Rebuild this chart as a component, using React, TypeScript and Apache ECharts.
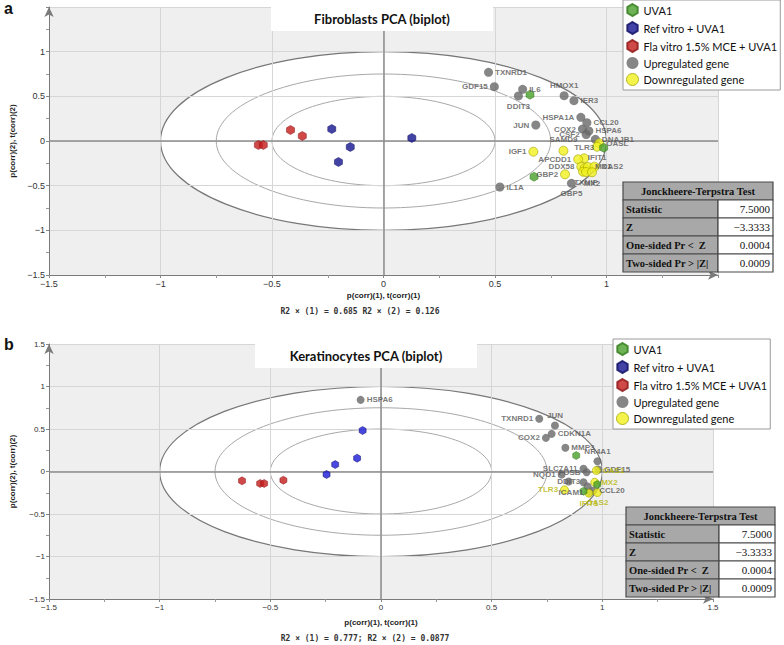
import React, { useEffect, useRef } from 'react';
import * as echarts from 'echarts';

// ---------- data ----------
const ellipseRadii = [1, 0.75, 0.5];
const legendNames = ['UVA1', 'Ref vitro + UVA1', 'Fla vitro 1.5% MCE + UVA1', 'Upregulated gene', 'Downregulated gene'];
const panelTitles = ['Fibroblasts PCA (biplot)', 'Keratinocytes PCA (biplot)'];
const panelLetters = ['a', 'b'];
const r2Texts = ['R2 \u00d7 (1) = 0.685 R2 \u00d7 (2) = 0.126', 'R2 \u00d7 (1) = 0.777; R2 \u00d7 (2) = 0.0877'];
const axisNameX = 'p(corr)(1), t(corr)(1)';
const axisNameY = 'p(corr)(2), t(corr)(2)';

const tableTitle = 'Jonckheere-Terpstra Test';
const tableLabels = ['Statistic', 'Z', 'One-sided Pr <  Z', 'Two-sided Pr > |Z|'];
const tableValues = ['7.5000', '\u22123.3333', '0.0004', '0.0009'];

// Fibroblasts
const fibUVA1 = [[0.657, 0.518], [0.675, -0.4], [0.987, -0.075]];
const fibRef = [[-0.232, 0.134], [-0.149, -0.067], [-0.202, -0.235], [0.127, 0.034]];
const fibFla = [[-0.561, -0.045], [-0.539, -0.045], [-0.417, 0.123], [-0.364, 0.056]];
type Gene = [string, number, number, string];
const fibUp: Gene[] = [
  ['TXNRD1', 0.471, 0.769, 'right'],
  ['GDF15', 0.497, 0.608, 'left'],
  ['IL6', 0.624, 0.579, 'right'],
  ['DDIT3', 0.605, 0.504, 'bottom'],
  ['HMOX1', 0.81, 0.507, 'top'],
  ['IER3', 0.854, 0.451, 'right'],
  ['HSPA1A', 0.885, 0.265, 'left'],
  ['CCL20', 0.912, 0.205, 'right'],
  ['COX2', 0.892, 0.134, 'left'],
  ['HSPA6', 0.921, 0.112, 'right'],
  ['CSF2', 0.909, 0.073, 'left'],
  ['DNAJB1', 0.95, 0.019, 'right'],
  ['JUN', 0.683, 0.179, 'left'],
  ['IL1A', 0.522, -0.515, 'right'],
  ['GBP5', 0.843, -0.474, 'bottom'],
];
const fibDown: Gene[] = [
  ['IGF1', 0.672, -0.12, 'left'],
  ['SAMD9', 0.807, -0.109, 'top'],
  ['TLR3', 0.9, -0.194, 'top'],
  ['APCDD1', 0.873, -0.205, 'left'],
  ['DDX58', 0.887, -0.288, 'left'],
  ['', 0.902, -0.306, 'left'],
  ['', 0.895, -0.344, 'left'],
  ['GBP2', 0.814, -0.373, 'left'],
  ['MX1', 0.917, -0.291, 'right'],
  ['OAS2', 0.946, -0.288, 'right'],
  ['TXNIP', 0.908, -0.347, 'bottom'],
  ['MX2', 0.935, -0.35, 'bottom'],
  ['OASL', 0.968, -0.026, 'right'],
  ['IFIT1', 0.958, -0.064, 'bottom'],
];

// Keratinocytes
const kerUVA1 = [[0.882, 0.188], [0.977, -0.153], [0.915, -0.232]];
const kerRef = [[-0.246, -0.035], [-0.207, 0.082], [-0.108, 0.157], [-0.083, 0.482]];
const kerFla = [[-0.628, -0.11], [-0.546, -0.141], [-0.528, -0.141], [-0.441, -0.102]];
const kerUp: Gene[] = [
  ['HSPA6', -0.092, 0.843, 'right'],
  ['TXNRD1', 0.715, 0.62, 'left'],
  ['JUN', 0.786, 0.541, 'top'],
  ['CDKN1A', 0.771, 0.443, 'right'],
  ['COX2', 0.745, 0.396, 'left'],
  ['MMP3', 0.833, 0.279, 'right'],
  ['NR4A1', 0.978, 0.121, 'top'],
  ['SLC7A11', 0.915, 0.032, 'left'],
  ['FOSB', 0.929, -0.008, 'left'],
  ['NQO1', 0.816, -0.035, 'left'],
  ['DDIT3', 0.848, -0.118, 'inside'],
  ['', 0.915, -0.126, 'left'],
  ['', 0.934, -0.176, 'left'],
  ['CCL20', 0.959, -0.224, 'right'],
  ['ICAM1', 0.942, -0.247, 'left'],
  ['GDF15', 0.982, 0.024, 'right'],
];
const kerDown: Gene[] = [
  ['TLR3', 0.829, -0.215, 'left'],
  ['MX2', 0.966, -0.126, 'right'],
  ['IFIT1', 0.939, -0.255, 'bottom'],
  ['OAS2', 0.978, -0.247, 'bottom'],
  ['OAS1', 0.973, 0.012, 'right'],
];

// ---------- styles ----------
const HEX = 'path://M50,0 L93.3,25 L93.3,75 L50,100 L6.7,75 L6.7,25 Z';
const SANS = 'Liberation Sans';
const COL = {
  green: '#4a9f2c',
  blue: '#14148f',
  blue2: '#1a1ad8',
  red: '#c41c1c',
  gray: '#686868',
  yellow: '#f0f01e',
};

const minusFmt = (v: number) => (v < 0 ? '\u2212' + String(-v) : String(v));

const panels = [
  {
    grid: { left: 34, top: 7, width: 684, height: 268 },
    fs: 9, showMax: false, nameGapX: 16, nameGapY: 33,
    uva: fibUVA1, ref: fibRef, fla: fibFla, up: fibUp, down: fibDown,
    blue: COL.blue, downLabel: '#555555', sym: 9,
    title: { x: 271, y: 7, w: 222, h: 24 },
    legend: { left: 623, top: 0 },
    table: { x: 623, y: 182, w1: 95, w2: 55, rh: 18 },
    r2: { x: 360, y: 311 },
    letter: { x: 4, y: 0 },
  },
  {
    grid: { left: 35, top: 344, width: 678, height: 255 },
    fs: 8, showMax: true, nameGapX: 19, nameGapY: 33,
    uva: kerUVA1, ref: kerRef, fla: kerFla, up: kerUp, down: kerDown,
    blue: COL.blue2, downLabel: '#b5b500', sym: 8,
    title: { x: 255, y: 343, w: 222, h: 25 },
    legend: { left: 613, top: 339 },
    table: { x: 626, y: 507, w1: 93, w2: 56, rh: 18 },
    r2: { x: 365, y: 638 },
    letter: { x: 4, y: 336 },
  },
];

function buildOption() {
  const grids: any[] = [];
  const xAxes: any[] = [];
  const yAxes: any[] = [];
  const series: any[] = [];
  const legends: any[] = [];
  const graphics: any[] = [];

  panels.forEach((p, i) => {
    grids.push({ ...p.grid, show: true, backgroundColor: '#efefef', borderWidth: 0, z: -2 });
    const common = (name: string, gap: number) => ({
      type: 'value', gridIndex: i, min: -1.5, max: 1.5, interval: 0.5,
      name, nameLocation: 'middle', nameGap: gap,
      nameTextStyle: { fontSize: 8, fontWeight: 'bold', color: '#222', fontFamily: SANS },
      axisLine: { show: true, onZero: false, symbol: ['none', 'arrow'], symbolSize: [7, 10], lineStyle: { color: '#7a7a7a', width: 1 } },
      axisTick: { show: true, length: 3, lineStyle: { color: '#888' } },
      minorTick: { show: true, splitNumber: 2, length: 3, lineStyle: { color: '#999' } },
      axisLabel: { fontSize: p.fs, color: '#333', margin: 4, fontFamily: SANS, showMaxLabel: p.showMax, formatter: minusFmt },
      splitLine: { show: true, lineStyle: { color: '#d6d6d6', width: 1 } },
    });
    xAxes.push(common(axisNameX, p.nameGapX));
    yAxes.push(common(axisNameY, p.nameGapY));

    // correlation ellipses
    series.push({
      type: 'custom', xAxisIndex: i, yAxisIndex: i, z: -1, silent: true,
      data: ellipseRadii.map((r) => [r, 0]),
      renderItem: (params: any, api: any) => {
        const r = api.value(0);
        const c = api.coord([0, 0]);
        const e = api.coord([r, r]);
        return {
          type: 'ellipse',
          shape: { cx: c[0], cy: c[1], rx: e[0] - c[0], ry: c[1] - e[1] },
          style: {
            fill: params.dataIndex === 0 ? '#ffffff' : 'none',
            stroke: params.dataIndex === 0 ? '#777' : '#a8a8a8',
            lineWidth: params.dataIndex === 0 ? 1.2 : 1,
          },
        };
      },
    });

    const geneLabel = (color: string) => ({
      show: true, formatter: '{b}', fontSize: 8, fontWeight: 'bold', color, fontFamily: SANS, distance: 2,
    });
    series.push({
      type: 'scatter', name: legendNames[3], xAxisIndex: i, yAxisIndex: i,
      symbol: 'circle', symbolSize: p.sym, itemStyle: { color: COL.gray },
      label: geneLabel('#555555'),
      data: p.up.map(([n, x, y, pos]) => ({ name: n, value: [x, y], label: { position: pos } })),
      markLine: {
        silent: true, symbol: 'none', z: 1, label: { show: false },
        lineStyle: { color: '#8c8c8c', width: 1.5, type: 'solid' },
        data: [{ xAxis: 0 }, { yAxis: 0 }],
      },
    });
    series.push({
      type: 'scatter', name: legendNames[4], xAxisIndex: i, yAxisIndex: i,
      symbol: 'circle', symbolSize: p.sym, itemStyle: { color: COL.yellow, borderColor: '#a5a500', borderWidth: 0.8 },
      label: geneLabel(p.downLabel),
      data: p.down.map(([n, x, y, pos]) => ({ name: n, value: [x, y], label: { position: pos } })),
    });
    const hex = (name: string, color: string, border: string, data: number[][]) => ({
      type: 'scatter', name, xAxisIndex: i, yAxisIndex: i,
      symbol: HEX, symbolSize: [p.sym - 1, p.sym],
      itemStyle: { color, borderColor: border, borderWidth: 0.6 },
      data,
    });
    series.push(hex(legendNames[0], COL.green, '#2f7a18', p.uva));
    series.push(hex(legendNames[1], p.blue, '#0a0a60', p.ref));
    series.push(hex(legendNames[2], COL.red, '#8a1010', p.fla));

    legends.push({
      left: p.legend.left, top: p.legend.top, orient: 'vertical',
      backgroundColor: '#fff', borderColor: '#9a9a9a', borderWidth: 1,
      padding: [3, 3, 4, 3], itemGap: 4, itemWidth: 12, itemHeight: 12,
      selectedMode: false,
      textStyle: { fontSize: 11, color: '#111', fontFamily: 'Lato' },
      data: [
        { name: legendNames[0], icon: HEX, itemStyle: { color: COL.green } },
        { name: legendNames[1], icon: HEX, itemStyle: { color: COL.blue } },
        { name: legendNames[2], icon: HEX, itemStyle: { color: COL.red } },
        { name: legendNames[3], icon: 'circle', itemStyle: { color: COL.gray } },
        { name: legendNames[4], icon: 'circle', itemStyle: { color: COL.yellow, borderColor: '#a5a500', borderWidth: 1 } },
      ],
    });

    // title box
    graphics.push({ type: 'rect', z: 10, shape: { x: p.title.x, y: p.title.y, width: p.title.w, height: p.title.h }, style: { fill: '#fff' } });
    graphics.push({
      type: 'text', z: 11, x: p.title.x + p.title.w / 2, y: p.title.y + p.title.h / 2,
      style: { text: panelTitles[i], font: 'bold 13px Lato', fill: '#111', align: 'center', verticalAlign: 'middle' },
    });
    // panel letter
    graphics.push({
      type: 'text', z: 11, x: p.letter.x, y: p.letter.y,
      style: { text: panelLetters[i], font: 'bold 16px "Liberation Sans"', fill: '#111', align: 'left', verticalAlign: 'top' },
    });
    // R2 text
    graphics.push({
      type: 'text', z: 11, x: p.r2.x, y: p.r2.y,
      style: { text: r2Texts[i], font: 'bold 8px "DejaVu Sans Mono"', fill: '#333', align: 'center', verticalAlign: 'middle' },
    });
    // table
    const t = p.table;
    const W = t.w1 + t.w2;
    graphics.push({ type: 'rect', z: 12, shape: { x: t.x, y: t.y, width: W, height: t.rh }, style: { fill: '#a8a8a8', stroke: '#4a4a4a', lineWidth: 1.2 } });
    graphics.push({
      type: 'text', z: 13, x: t.x + W / 2, y: t.y + t.rh / 2,
      style: { text: tableTitle, font: 'bold 10.5px "Liberation Serif"', fill: '#111', align: 'center', verticalAlign: 'middle' },
    });
    tableLabels.forEach((lab, r) => {
      const yy = t.y + t.rh * (r + 1);
      graphics.push({ type: 'rect', z: 12, shape: { x: t.x, y: yy, width: t.w1, height: t.rh }, style: { fill: '#a8a8a8', stroke: '#4a4a4a', lineWidth: 1.2 } });
      graphics.push({ type: 'rect', z: 12, shape: { x: t.x + t.w1, y: yy, width: t.w2, height: t.rh }, style: { fill: '#fff', stroke: '#4a4a4a', lineWidth: 1.2 } });
      graphics.push({
        type: 'text', z: 13, x: t.x + 3, y: yy + t.rh / 2,
        style: { text: lab, font: 'bold 10.5px "Liberation Serif"', fill: '#111', align: 'left', verticalAlign: 'middle' },
      });
      graphics.push({
        type: 'text', z: 13, x: t.x + W - 3, y: yy + t.rh / 2,
        style: { text: tableValues[r], font: '11px "Liberation Serif"', fill: '#111', align: 'right', verticalAlign: 'middle' },
      });
    });
  });

  return {
    animation: false,
    backgroundColor: '#fff',
    grid: grids,
    xAxis: xAxes,
    yAxis: yAxes,
    legend: legends,
    series,
    graphic: { elements: graphics },
  };
}

export default function App() {
  const ref = useRef<HTMLDivElement>(null);
  useEffect(() => {
    if (!ref.current) return;
    const chart = echarts.init(ref.current, undefined, { renderer: 'svg' });
    chart.setOption(buildOption() as any);
    return () => chart.dispose();
  }, []);
  return <div ref={ref} style={{ position: 'absolute', left: 0, top: 0, width: 784, height: 645 }} />;
}
